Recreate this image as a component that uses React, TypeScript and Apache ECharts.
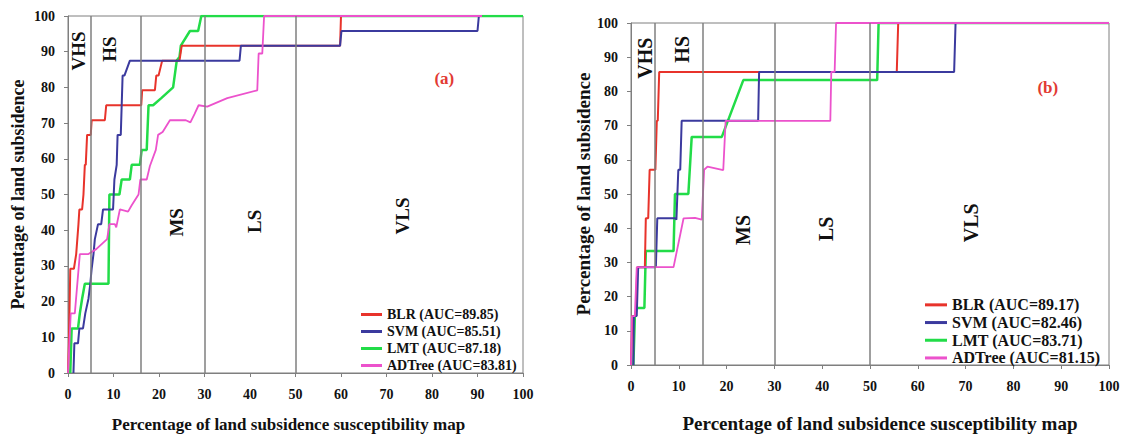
import React, { useEffect, useRef } from 'react';
import * as echarts from 'echarts';

const FONT = "'Liberation Serif', 'Times New Roman', serif";

const X_TITLE = 'Percentage of land subsidence susceptibility map';
const Y_TITLE = 'Percentage of land subsidence';

const NAMES_A = ['BLR (AUC=89.85)', 'SVM (AUC=85.51)', 'LMT (AUC=87.18)', 'ADTree (AUC=83.81)'];
const NAMES_B = ['BLR (AUC=89.17)', 'SVM (AUC=82.46)', 'LMT (AUC=83.71)', 'ADTree (AUC=81.15)'];

const COLORS = { BLR: '#e8332b', SVM: '#3b3a9e', LMT: '#22dc48', ADTree: '#ec52cc' };

// zone boundaries (x values) for each chart
const ZONE_BOUNDS_A = [5, 16, 30, 50];
const ZONE_BOUNDS_B = [5, 15, 30, 50];

// zone labels: [x, y, text]
const ZONE_LABELS_A: [number, number, string][] = [
  [2.4, 90.2, 'VHS'],
  [9.2, 90.7, 'HS'],
  [23.8, 42.2, 'MS'],
  [41, 42.5, 'LS'],
  [73.6, 44, 'VLS'],
];
const ZONE_LABELS_B: [number, number, string][] = [
  [3.0, 89.7, 'VHS'],
  [10.6, 92.3, 'HS'],
  [23.5, 39.5, 'MS'],
  [40.8, 39.8, 'LS'],
  [71.1, 41.6, 'VLS'],
];
const PANEL_A: [number, number, string] = [82.7, 82.4, '(a)'];
const PANEL_B: [number, number, string] = [87.2, 81, '(b)'];

// Chart (a) curves
const BLR_A = [
  [0, 0], [0.2, 8.3], [0.5, 29.2], [1.3, 29.2], [1.8, 33.3], [2.3, 41.7], [2.5, 45.8], [3.1, 45.8],
  [3.4, 50], [3.7, 58.3], [3.9, 58.3], [4.2, 66.7], [5, 66.7], [5.2, 70.8], [8.1, 70.8], [8.4, 75],
  [16.1, 75], [16.3, 79.2], [19.1, 79.2], [19.4, 83.3], [19.9, 83.3], [20.7, 87.5], [24.5, 87.5],
  [25, 91.7], [59.8, 91.7], [60, 100], [91, 100],
];
const SVM_A = [
  [1.2, 0], [1.4, 8.3], [2.2, 8.3], [2.5, 12.5], [3.3, 12.5], [3.8, 16.7], [4.5, 20.8], [4.9, 25],
  [5.2, 29.2], [5.6, 33.3], [5.9, 37.5], [6.6, 41.7], [7.3, 41.7], [7.7, 45.8], [9.9, 45.8],
  [10.2, 54.2], [10.7, 58.3], [10.9, 66.7], [11.6, 66.7], [12, 83.3], [12.4, 83.3], [13.6, 87.5],
  [37.7, 87.5], [38, 91.7], [59.8, 91.7], [60.1, 95.8], [90, 95.8], [90.3, 100],
];
const LMT_A = [
  [0.5, 0], [0.8, 12.5], [2.2, 12.5], [2.6, 16.7], [3.1, 20.8], [3.7, 25], [8.9, 25], [9.1, 50],
  [11.3, 50], [11.8, 54.2], [13.6, 54.2], [14, 58.3], [15.8, 58.3], [16.2, 62.5], [17.3, 62.5],
  [17.7, 75], [18.7, 75], [20.5, 77], [23.1, 80], [23.9, 87.5], [24.5, 88.5], [24.8, 91.7],
  [26.8, 95.8], [28.6, 95.8], [29.3, 100], [100, 100],
];
const ADTREE_A = [
  [0, 0], [0.6, 16.7], [1.5, 16.7], [2.6, 33.3], [4.5, 33.3], [6.2, 34.7], [8.6, 37.5], [9.1, 41.7],
  [10.3, 41.7], [10.6, 40.8], [11.4, 45.8], [13.2, 45.2], [14, 47], [15.5, 50], [15.9, 54.2],
  [17.3, 54.2], [18, 58], [19.3, 62.5], [19.8, 66.7], [20.8, 67.5], [22.4, 70.8], [25.9, 70.8],
  [26.9, 70.2], [27.8, 72.5], [28.7, 75], [30.6, 74.6], [35, 77], [41.6, 79.2], [41.9, 89.5],
  [42.7, 89.5], [43.1, 100], [91, 100],
];

// Chart (b) curves
const BLR_B = [
  [0, 0], [0.3, 14.3], [1, 14.3], [1.3, 28.6], [2.9, 28.6], [3.1, 42.9], [3.6, 42.9], [3.9, 57.1],
  [5.1, 57.1], [5.4, 71.4], [5.6, 71.4], [5.9, 85.7], [55.6, 85.7], [55.9, 100], [100, 100],
];
const SVM_B = [
  [0.5, 0], [0.6, 14.3], [1.2, 14.3], [1.5, 28.6], [5.2, 28.6], [5.5, 42.9], [9.2, 42.9],
  [9.5, 42.5], [9.9, 57.1], [10.3, 57.1], [10.6, 71.4], [26.6, 71.4], [26.8, 85.7], [67.6, 85.7],
  [67.9, 100], [100, 100],
];
const LMT_B = [
  [0.5, 0], [0.8, 14], [1.2, 16.7], [2.8, 16.7], [3.1, 33.3], [8.9, 33.3], [9.2, 50], [12, 50],
  [12.7, 66.7], [19, 66.7], [23.5, 83.3], [51.5, 83.3], [51.8, 100], [100, 100],
];
const ADTREE_B = [
  [0, 0], [0.2, 14.3], [0.8, 14.3], [1.2, 28.6], [8.9, 28.6], [11, 42.9], [13.4, 43], [14.8, 42.5],
  [15.3, 57.1], [16, 58], [19.3, 57], [19.8, 71.4], [41.7, 71.4], [41.9, 85.7], [42.6, 85.7],
  [42.9, 100], [100, 100],
];

const TEXT = '#111';
const AXIS_GRAY = '#7f7f7f';

function axisCommon(gridIndex: number, isX: boolean, big: boolean) {
  return {
    gridIndex,
    type: 'value',
    min: 0,
    max: 100,
    interval: 10,
    name: isX ? X_TITLE : Y_TITLE,
    nameLocation: 'middle',
    nameGap: isX ? (big ? 49 : 43) : (big ? 37 : 41),
    nameTextStyle: {
      fontFamily: FONT,
      fontWeight: 'bold',
      fontSize: big ? 19 : isX ? 17 : 18,
      color: TEXT,
      padding: isX ? (big ? [0, 0, 0, 20] : [0, 14, 0, 0]) : 0,
    },
    axisLine: { show: true, onZero: false, lineStyle: { color: AXIS_GRAY, width: 1 } },
    axisTick: { show: true, length: 4, inside: false, lineStyle: { color: AXIS_GRAY } },
    axisLabel: { fontFamily: FONT, fontWeight: 'bold', fontSize: 14, color: TEXT, margin: isX ? 14 : 13 },
    splitLine: { show: false },
  };
}

function lineSeries(name: string, data: number[][], color: string, width: number, idx: number) {
  return {
    type: 'line',
    name,
    xAxisIndex: idx,
    yAxisIndex: idx,
    data,
    color,
    symbol: 'none',
    showSymbol: false,
    lineStyle: { color, width },
    emphasis: { disabled: true },
    silent: true,
  };
}

function zoneSeries(idx: number, labels: [number, number, string][], panel: [number, number, string], bounds: number[]) {
  return {
    type: 'scatter',
    xAxisIndex: idx,
    yAxisIndex: idx,
    symbolSize: 0,
    silent: true,
    z: 1,
    itemStyle: { opacity: 1 },
    emphasis: { disabled: true },
    data: [
      ...labels.map((l) => ({ value: [l[0], l[1]], name: l[2] })),
      {
        value: [panel[0], panel[1]],
        name: panel[2],
        label: { rotate: 0, color: '#e23a33', fontSize: 17 },
      },
    ],
    label: {
      show: true,
      position: 'inside',
      formatter: '{b}',
      rotate: 90,
      fontFamily: FONT,
      fontWeight: 'bold',
      fontSize: idx === 0 ? 19 : 20,
      color: TEXT,
      opacity: 1,
      textBorderWidth: 0,
    },
    markLine: {
      silent: true,
      symbol: ['none', 'none'],
      label: { show: false },
      emphasis: { disabled: true },
      lineStyle: { color: AXIS_GRAY, width: 1.5, type: 'solid', opacity: 1 },
      data: bounds.map((b) => ({ xAxis: b })),
    },
  };
}

export default function App() {
  const ref = useRef<HTMLDivElement>(null);
  useEffect(() => {
    if (!ref.current) return;
    const chart = echarts.init(ref.current, null, { renderer: 'svg' });
    const option = {
      animation: false,
      backgroundColor: '#ffffff',
      grid: [
        { left: 68, top: 16, width: 455, height: 363, show: true, borderColor: AXIS_GRAY, borderWidth: 1 },
        { left: 631, top: 23, width: 478, height: 348.5, show: true, borderColor: AXIS_GRAY, borderWidth: 1 },
      ],
      xAxis: [axisCommon(0, true, false), axisCommon(1, true, true)],
      yAxis: [axisCommon(0, false, false), axisCommon(1, false, true)],
      legend: [
        {
          data: NAMES_A,
          left: 361,
          top: 306,
          orient: 'vertical',
          padding: 0,
          icon: 'rect',
          itemWidth: 21,
          itemHeight: 3,
          itemGap: 0,
          selectedMode: false,
          textStyle: { fontFamily: FONT, fontWeight: 'bold', fontSize: 14, color: TEXT, lineHeight: 17 },
        },
        {
          data: NAMES_B,
          left: 925,
          top: 296,
          orient: 'vertical',
          padding: 0,
          icon: 'rect',
          itemWidth: 22,
          itemHeight: 3,
          itemGap: 0,
          selectedMode: false,
          textStyle: { fontFamily: FONT, fontWeight: 'bold', fontSize: 16, color: TEXT, lineHeight: 17.7 },
        },
      ],
      series: [
        zoneSeries(0, ZONE_LABELS_A, PANEL_A, ZONE_BOUNDS_A),
        lineSeries(NAMES_A[2], LMT_A, COLORS.LMT, 2.5, 0),
        lineSeries(NAMES_A[0], BLR_A, COLORS.BLR, 2, 0),
        lineSeries(NAMES_A[1], SVM_A, COLORS.SVM, 2, 0),
        lineSeries(NAMES_A[3], ADTREE_A, COLORS.ADTree, 1.8, 0),
        zoneSeries(1, ZONE_LABELS_B, PANEL_B, ZONE_BOUNDS_B),
        lineSeries(NAMES_B[2], LMT_B, COLORS.LMT, 2.5, 1),
        lineSeries(NAMES_B[0], BLR_B, COLORS.BLR, 2, 1),
        lineSeries(NAMES_B[1], SVM_B, COLORS.SVM, 2, 1),
        lineSeries(NAMES_B[3], ADTREE_B, COLORS.ADTree, 1.8, 1),
      ],
    };
    chart.setOption(option as any);
    return () => chart.dispose();
  }, []);
  return (
    <div
      ref={ref}
      style={{ position: 'absolute', left: 0, top: 0, width: 1126, height: 438, background: '#fff' }}
    />
  );
}
